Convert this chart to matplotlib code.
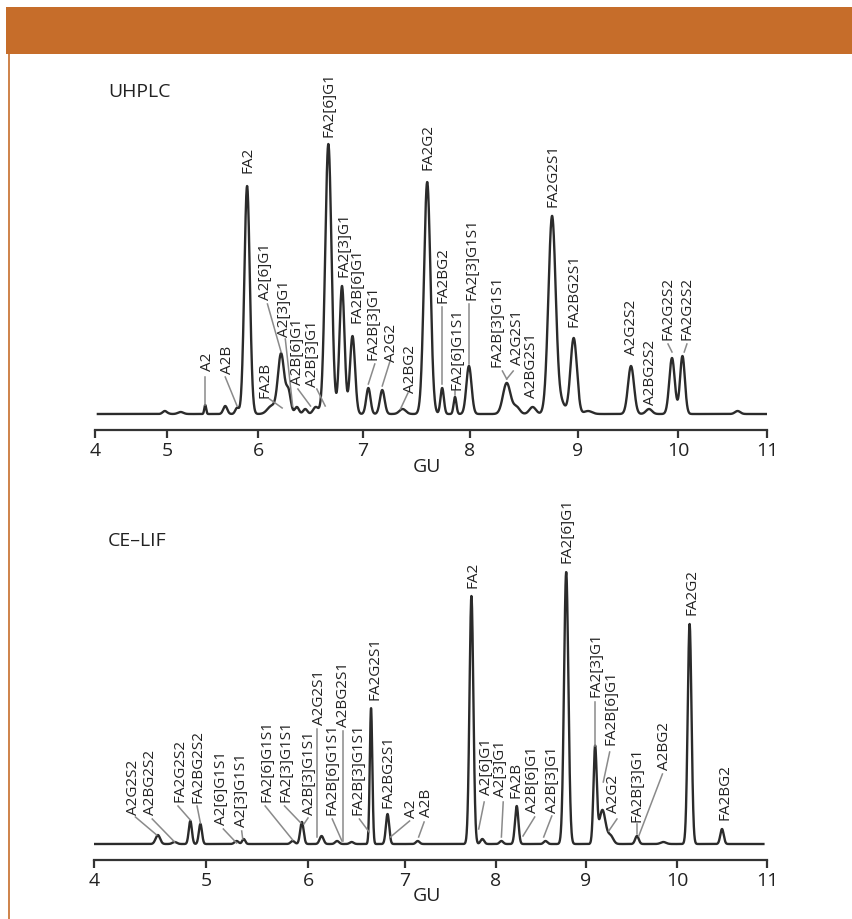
import numpy as np
import matplotlib
matplotlib.use("Agg")
import matplotlib.pyplot as plt

plt.rcParams['font.family'] = ['Open Sans', 'DejaVu Sans']

# GU ticks and where they sit along each axis (the GU scale is not linear)
gu_ticks = [4, 5, 6, 7, 8, 9, 10, 11]
top_tick_px = [95, 167, 258, 363, 470, 578, 678, 767]
bot_tick_px = [94, 206, 308, 405, 496, 586, 677, 767]

# UHPLC peaks: position (GU), height, width
uh_pos = [4.97, 5.15, 5.42, 5.64, 5.77, 5.88, 6.13, 6.22, 6.29, 6.37, 6.45, 6.55,
          6.67, 6.80, 6.90, 7.05, 7.18, 7.37, 7.60, 7.74, 7.86, 7.99, 8.34, 8.43,
          8.58, 8.76, 8.85, 8.96, 9.10, 9.53, 9.71, 9.94, 10.05, 10.67]
uh_height = [3, 2, 9, 8, 6, 228, 8, 60, 22, 7, 5, 7,
             270, 128, 78, 26, 24, 5, 232, 26, 17, 48, 31, 7,
             7, 198, 10, 76, 3, 48, 5, 56, 58, 3]
uh_width = [0.03, 0.03, 0.010, 0.022, 0.02, 0.03, 0.04, 0.03, 0.022, 0.02, 0.02, 0.025,
            0.03, 0.024, 0.024, 0.02, 0.022, 0.03, 0.03, 0.016, 0.013, 0.024, 0.035, 0.03,
            0.03, 0.034, 0.03, 0.03, 0.04, 0.03, 0.03, 0.027, 0.027, 0.03]

# CE-LIF peaks
ce_pos = [4.57, 4.72, 4.86, 4.95, 5.30, 5.37, 5.85, 5.94, 6.14, 6.30, 6.45, 6.65,
          6.82, 7.14, 7.73, 7.85, 8.06, 8.23, 8.55, 8.78, 9.10, 9.18, 9.27, 9.56,
          9.85, 10.14, 10.50]
ce_height = [9, 2, 23, 20, 3, 5, 3, 22, 8, 3, 2, 136,
             30, 3, 248, 5, 3, 38, 3, 272, 96, 34, 8, 8,
             2, 220, 15]
ce_width = [0.02, 0.02, 0.014, 0.014, 0.02, 0.015, 0.02, 0.017, 0.02, 0.02, 0.02, 0.013,
            0.017, 0.02, 0.021, 0.02, 0.02, 0.019, 0.02, 0.024, 0.018, 0.035, 0.03, 0.02,
            0.03, 0.021, 0.019]

# peak labels: text, label x (GU), label bottom, leader line start / end (or None)
uh_labels = [
    ("A2", 5.44, 44, (5.42, 37), (5.42, 9)),
    ("A2B", 5.66, 41, (5.64, 37), (5.77, 8)),
    ("FA2", 5.89, 242, None, None),
    ("FA2B", 6.07, 17, (6.11, 15), (6.23, 6)),
    ("A2[6]G1", 6.07, 115, (6.09, 110), (6.22, 62)),
    ("A2[3]G1", 6.25, 78, (6.26, 75), (6.33, 8)),
    ("A2B[6]G1", 6.38, 30, (6.38, 25), (6.50, 8)),
    ("A2B[3]G1", 6.52, 28, (6.56, 25), (6.64, 8)),
    ("FA2[6]G1", 6.68, 278, None, None),
    ("FA2[3]G1", 6.82, 138, None, None),
    ("FA2B[6]G1", 6.94, 92, None, None),
    ("FA2B[3]G1", 7.09, 55, (7.11, 50), (7.05, 30)),
    ("A2G2", 7.27, 53, (7.25, 52), (7.18, 28)),
    ("A2BG2", 7.44, 22, (7.42, 21), (7.35, 5)),
    ("FA2G2", 7.61, 245, None, None),
    ("FA2BG2", 7.75, 112, (7.74, 107), (7.74, 30)),
    ("FA2[6]G1S1", 7.88, 25, (7.86, 23), (7.86, 19)),
    ("FA2[3]G1S1", 8.02, 115, (7.99, 110), (7.99, 50)),
    ("FA2B[3]G1S1", 8.25, 48, (8.30, 43), (8.34, 35)),
    ("A2G2S1", 8.44, 50, (8.40, 43), (8.34, 35)),
    ("A2BG2S1", 8.57, 17, None, None),
    ("FA2G2S1", 8.77, 208, None, None),
    ("FA2BG2S1", 8.96, 88, None, None),
    ("A2G2S2", 9.54, 60, None, None),
    ("A2BG2S2", 9.73, 10, None, None),
    ("FA2G2S2", 9.90, 75, (9.90, 70), (9.94, 62)),
    ("FA2G2S2", 10.10, 75, (10.10, 70), (10.07, 62)),
]
ce_labels = [
    ("A2G2S2", 4.35, 30, (4.37, 27), (4.56, 9)),
    ("A2BG2S2", 4.50, 30, (4.52, 25), (4.72, 2)),
    ("FA2G2S2", 4.77, 43, (4.75, 38), (4.86, 24)),
    ("FA2BG2S2", 4.93, 42, (4.92, 38), (4.95, 21)),
    ("A2[6]G1S1", 5.15, 20, (5.17, 15), (5.30, 1)),
    ("A2[3]G1S1", 5.35, 18, (5.35, 13), (5.36, 5)),
    ("FA2[6]G1S1", 5.60, 43, (5.58, 38), (5.85, 4)),
    ("FA2[3]G1S1", 5.78, 43, (5.77, 38), (5.93, 21)),
    ("A2B[3]G1S1", 6.02, 30, (6.00, 26), (5.96, 20)),
    ("A2G2S1", 6.12, 120, (6.09, 115), (6.09, 7)),
    ("FA2B[6]G1S1", 6.25, 30, (6.25, 25), (6.35, 3)),
    ("A2BG2S1", 6.37, 118, (6.36, 113), (6.36, 3)),
    ("FA2B[3]G1S1", 6.52, 30, (6.53, 25), (6.63, 12)),
    ("FA2G2S1", 6.69, 145, None, None),
    ("FA2BG2S1", 6.82, 37, None, None),
    ("A2", 7.07, 27, (7.05, 23), (6.85, 7)),
    ("A2B", 7.24, 28, (7.21, 22), (7.15, 7)),
    ("FA2", 7.75, 257, None, None),
    ("A2[6]G1", 7.90, 50, (7.87, 42), (7.81, 15)),
    ("A2[3]G1", 8.055, 48, (8.08, 42), (8.06, 7)),
    ("FA2B", 8.225, 47, None, None),
    ("A2B[6]G1", 8.41, 32, (8.43, 27), (8.30, 8)),
    ("A2B[3]G1", 8.63, 32, (8.62, 28), (8.53, 7)),
    ("FA2[6]G1", 8.79, 282, None, None),
    ("FA2[3]G1", 9.11, 148, (9.10, 142), (9.10, 98)),
    ("FA2B[6]G1", 9.27, 100, (9.26, 92), (9.19, 62)),
    ("A2G2", 9.30, 32, (9.34, 25), (9.25, 13)),
    ("FA2B[3]G1", 9.56, 23, (9.56, 20), (9.56, 10)),
    ("A2BG2", 9.86, 75, (9.84, 70), (9.58, 8)),
    ("FA2G2", 10.17, 230, None, None),
    ("FA2BG2", 10.53, 25, None, None),
]

W, H = 852, 920
ORANGE = '#c66d2a'
INK = '#2b2b2b'


def px_axes(fig, l, t, r, b):
    return fig.add_axes([l / W, 1 - b / H, (r - l) / W, (b - t) / H])


def trace(pos, height, width, x):
    y = np.zeros_like(x)
    for p, h, w in zip(pos, height, width):
        y += h * np.exp(-0.5 * ((x - p) / w) ** 2)
    return y


def panel(ax, tick_px, pos, height, width, labels, x0, x1):
    fwd = lambda g: np.interp(g, gu_ticks, tick_px)
    inv = lambda p: np.interp(p, tick_px, gu_ticks)
    ax.set_xscale('function', functions=(fwd, inv))
    ax.set_xlim(4, 11)
    ax.set_ylim(-16, 355)
    x = np.linspace(x0, x1, 4000)
    ax.plot(x, trace(pos, height, width, x), color=INK, lw=1.7,
            solid_joinstyle='round')
    for name, lx, ly, p0, p1 in labels:
        ax.text(lx, ly, name, rotation=90, ha='center', va='bottom',
                fontsize=11, color='#222222', clip_on=False)
        if p0 is not None:
            ax.plot([p0[0], p1[0]], [p0[1], p1[1]], color='#8a8a8a', lw=1.1)
    for s in ['top', 'right', 'left']:
        ax.spines[s].set_visible(False)
    ax.spines['bottom'].set_color('#333333')
    ax.spines['bottom'].set_linewidth(1.6)
    ax.set_yticks([])
    ax.set_xticks(gu_ticks)
    ax.tick_params(axis='x', direction='out', length=6, width=1.6,
                   color='#333333', labelsize=14, labelcolor='#222222', pad=2)
    ax.patch.set_alpha(0)


fig = plt.figure(figsize=(W / 100, H / 100), dpi=100)

# orange header band and left border
fig.patches.append(plt.Rectangle((6 / W, 1 - 55 / H), 1, 47 / H,
                                 transform=fig.transFigure, color=ORANGE, lw=0))
fig.add_artist(plt.Line2D([8.5 / W, 8.5 / W], [0, 1 - 55 / H],
                          transform=fig.transFigure, color=ORANGE, lw=1.2))

ax1 = px_axes(fig, 95, 60, 767, 431)
panel(ax1, top_tick_px, uh_pos, uh_height, uh_width, uh_labels, 4.04, 11.0)
ax2 = px_axes(fig, 94, 490, 767, 861)
panel(ax2, bot_tick_px, ce_pos, ce_height, ce_width, ce_labels, 4.0, 10.96)

fig.text(108 / W, 1 - 92 / H, 'UHPLC', fontsize=14, color='#222222', va='center')
fig.text(108 / W, 1 - 541 / H, 'CE–LIF', fontsize=14, color='#222222', va='center')
fig.text(427 / W, 1 - 467 / H, 'GU', fontsize=14, color='#222222', ha='center', va='center')
fig.text(427 / W, 1 - 896 / H, 'GU', fontsize=14, color='#222222', ha='center', va='center')

fig.savefig('out.png', dpi=100)
